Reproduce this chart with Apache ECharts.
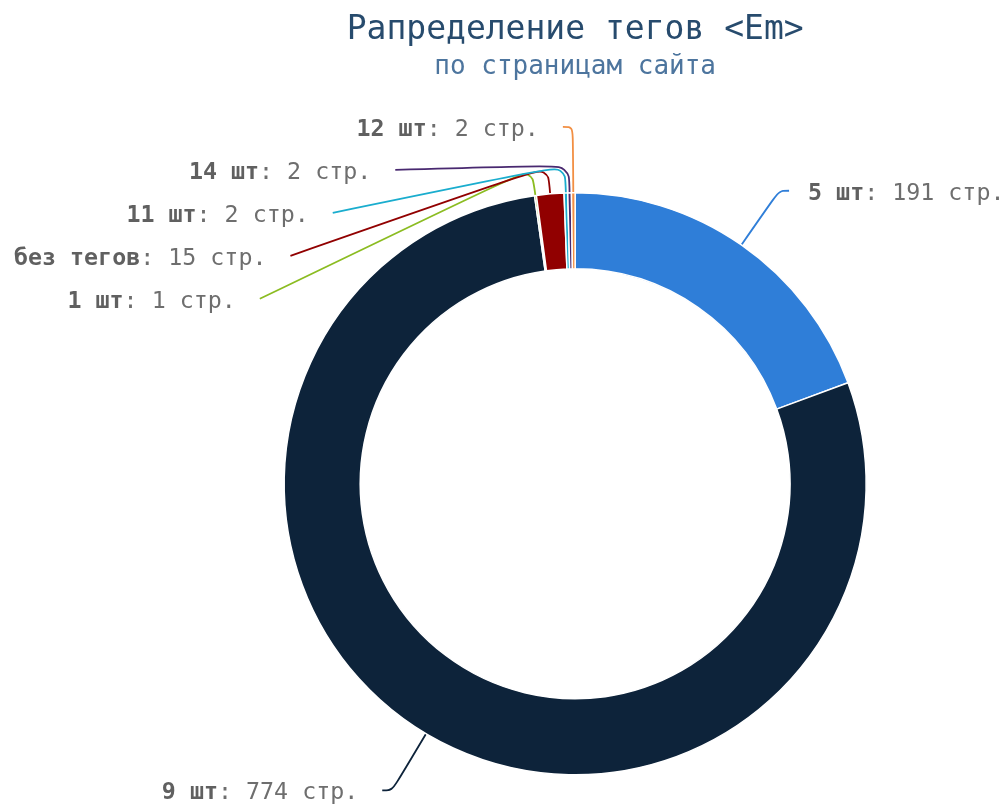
<!DOCTYPE html>
<html>
<head>
<meta charset="utf-8">
<script src="https://cdn.jsdelivr.net/npm/echarts@6/dist/echarts.min.js"></script>
<style>
html,body{margin:0;padding:0;background:#fff;}
#main{width:1002px;height:805px;}
</style>
</head>
<body>
<div id="main"></div>
<script>
// ---- data ----
const categories = ['5 шт', '9 шт', '1 шт', 'без тегов', '11 шт', '14 шт', '12 шт'];
const pageCounts = [191, 774, 1, 15, 2, 2, 2];
const sliceColors = ['#2f7ed8', '#0d233a', '#8bbc21', '#910000', '#1aadce', '#492970', '#f28f43'];
const titleText = 'Рапределение тегов <Em>';
const subtitleText = 'по страницам сайта';
const unitText = 'стр.';

// ---- style constants ----
const FONT = 'DejaVu Sans Mono';
const LABEL_SIZE = 23.3;
const LABEL_RADIUS_EXTRA = 66;   // label ring beyond outer radius
const LABEL_LEN2 = 10;           // horizontal tail of connector
const LABEL_GAP_RIGHT = 19;      // gap between connector end and text (right side)
const LABEL_GAP_LEFT = 24;       // gap between connector end and text (left side)
const LABEL_STEP = 43;           // vertical spacing of stacked labels
const CORNER_LEN = 28;           // radial length of first connector segment
const TEXT_DY = 3;               // text baseline nudge

const chart = echarts.init(document.getElementById('main'), null, {renderer: 'canvas'});

function computeLayouts() {
  const data = chart.getModel().getSeriesByIndex(0).getData();
  const items = [];
  for (let i = 0; i < data.count(); i++) {
    const l = data.getItemLayout(i);
    const mid = (l.startAngle + l.endAngle) / 2;
    const dx = Math.cos(mid), dy = Math.sin(mid);
    const R = l.r + LABEL_RADIUS_EXTRA;
    items.push({i, cx: l.cx, cy: l.cy, r: l.r, dx, dy, R, side: dx < 0 ? -1 : 1, y: l.cy + R * dy});
  }
  [-1, 1].forEach(side => {
    const list = items.filter(it => it.side === side).sort((a, b) => a.y - b.y);
    for (let k = 1; k < list.length; k++) {
      if (list[k].y < list[k - 1].y + LABEL_STEP) list[k].y = list[k - 1].y + LABEL_STEP;
    }
  });
  const out = {};
  items.forEach(it => {
    const ddy = it.y - it.cy;
    const ext = Math.sqrt(Math.max(0, it.R * it.R - ddy * ddy));
    const endX = it.cx + it.side * (ext + LABEL_LEN2);
    const base = [it.cx + it.r * it.dx, it.cy + it.r * it.dy];
    let t = CORNER_LEN;
    if (Math.abs(it.dy) > 1e-6) {
      const ty = (it.y - base[1]) / it.dy;
      if (ty > CORNER_LEN) t = ty;
    }
    const corner = [base[0] + it.dx * t, base[1] + it.dy * t];
    out[it.i] = {
      x: endX + (it.side < 0 ? -LABEL_GAP_LEFT : LABEL_GAP_RIGHT),
      y: it.y + TEXT_DY,
      align: it.side < 0 ? 'right' : 'left',
      verticalAlign: 'middle',
      labelLinePoints: [base, corner, [endX, it.y]]
    };
  });
  return out;
}

const option = {
  backgroundColor: '#ffffff',
  animation: false,
  title: {
    text: titleText,
    subtext: subtitleText,
    left: '57.4%',
    top: 9,
    padding: [5, 0],
    textAlign: 'center',
    itemGap: 7,
    textStyle: {fontFamily: FONT, fontSize: 33, fontWeight: 'normal', color: '#274b6d'},
    subtextStyle: {fontFamily: FONT, fontSize: 26, color: '#4d759e'}
  },
  series: [{
    type: 'pie',
    center: ['57.4%', '60.1%'],
    radius: ['53.4%', '72.3%'],
    startAngle: 90,
    clockwise: true,
    avoidLabelOverlap: false,
    itemStyle: {borderColor: '#ffffff', borderWidth: 1.5},
    emphasis: {disabled: true},
    label: {
      show: true,
      position: 'outside',
      overflow: 'none',
      formatter: p => '{b|' + p.name + '}{n|: ' + p.value + ' ' + unitText + '}',
      rich: {
        b: {fontFamily: FONT, fontSize: LABEL_SIZE, fontWeight: 'bold', color: '#606060'},
        n: {fontFamily: FONT, fontSize: LABEL_SIZE, color: '#6e6e6e'}
      }
    },
    labelLine: {show: true, smooth: 0.35, length: 30, length2: 10, lineStyle: {width: 1.8}},
    labelLayout: function (params) {
      return computeLayouts()[params.dataIndex];
    },
    data: categories.map((c, i) => ({name: c, value: pageCounts[i], itemStyle: {color: sliceColors[i]}}))
  }]
};
chart.setOption(option);
</script>
</body>
</html>
